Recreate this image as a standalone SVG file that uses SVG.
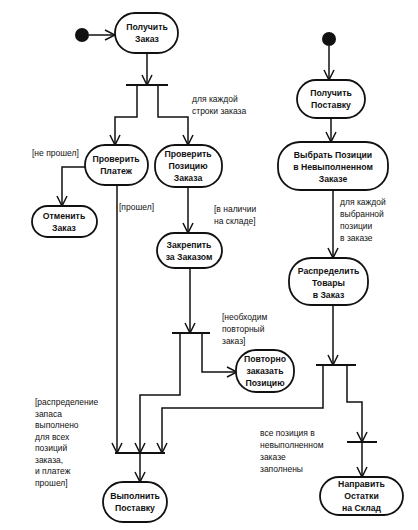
<svg xmlns="http://www.w3.org/2000/svg" width="418" height="530" viewBox="0 0 418 530">
<defs>
<marker id="arr" viewBox="0 0 12 12" refX="11" refY="6" markerWidth="12" markerHeight="12" markerUnits="userSpaceOnUse" orient="auto">
<polyline points="1,1 11,6 1,11" fill="none" stroke="#111" stroke-width="1.5"/>
</marker>
<style>
.node rect{fill:#fff;stroke:#111;stroke-width:1.8}
.node text{font-family:"Liberation Sans",Arial,sans-serif;font-size:8.7px;font-weight:bold;fill:#111;text-anchor:middle}
.c{fill:none;stroke:#111;stroke-width:1.5}
.a{marker-end:url(#arr)}
.bar{stroke:#111;stroke-width:2}
.lbl{font-family:"Liberation Sans",Arial,sans-serif;font-size:8.5px;fill:#111}
</style>
</defs>
<rect width="418" height="530" fill="#fff"/>

<g id="connectors">
<line class="c a" x1="89" y1="35" x2="115" y2="35"/>
<line class="c a" x1="147" y1="53" x2="147" y2="85"/>
<polyline class="c a" points="137,85 137,117 115,117 115,145"/>
<polyline class="c a" points="158,85 158,117 188,117 188,145"/>
<polyline class="c a" points="86,167 62,167 62,206"/>
<line class="c a" x1="117" y1="185" x2="117" y2="453"/>
<line class="c a" x1="188" y1="187" x2="188" y2="233"/>
<line class="c a" x1="190" y1="268" x2="190" y2="333"/>
<polyline class="c a" points="180,333 180,395 140,395 140,453"/>
<polyline class="c a" points="202,333 202,372 237,372"/>
<line class="c a" x1="329" y1="46" x2="329" y2="80"/>
<line class="c a" x1="331" y1="118" x2="331" y2="142"/>
<line class="c a" x1="333" y1="190" x2="333" y2="258"/>
<line class="c a" x1="333" y1="305" x2="333" y2="365"/>
<polyline class="c a" points="323,365 323,408 162,408 162,453"/>
<polyline class="c a" points="347,365 347,402 362,402 362,442"/>
<line class="c a" x1="362" y1="442" x2="362" y2="477"/>
<line class="c a" x1="140" y1="453" x2="140" y2="482"/>
</g>

<g id="bars">
<line class="bar" x1="126" y1="85" x2="168" y2="85"/>
<line class="bar" x1="172" y1="333" x2="210" y2="333"/>
<line class="bar" x1="316" y1="365" x2="356" y2="365"/>
<line class="bar" x1="115" y1="453" x2="165" y2="453"/>
<line class="bar" x1="347" y1="442" x2="377" y2="442"/>
</g>

<g id="start1"><circle cx="82" cy="35" r="7" fill="#111"/></g>
<g id="start2"><circle cx="329" cy="39" r="7" fill="#111"/></g>

<g id="n_get_order" class="node"><rect x="115" y="13" width="63" height="40" rx="20"/><text x="147" y="30">Получить</text><text x="147" y="42">Заказ</text></g>
<g id="n_check_payment" class="node"><rect x="85" y="145" width="63" height="40" rx="20"/><text x="116" y="162">Проверить</text><text x="116" y="174">Платеж</text></g>
<g id="n_check_item" class="node"><rect x="155" y="145" width="67" height="42" rx="20"/><text x="188" y="157">Проверить</text><text x="188" y="169">Позицию</text><text x="188" y="181">Заказа</text></g>
<g id="n_cancel" class="node"><rect x="32" y="206" width="65" height="31" rx="15.5"/><text x="64" y="219">Отменить</text><text x="64" y="231">Заказ</text></g>
<g id="n_reserve" class="node"><rect x="157" y="233" width="65" height="35" rx="17.5"/><text x="189" y="248">Закрепить</text><text x="189" y="260">за Заказом</text></g>
<g id="n_reorder" class="node"><rect x="236" y="350" width="58" height="42" rx="20"/><text x="265" y="362">Повторно</text><text x="265" y="374">заказать</text><text x="265" y="386">Позицию</text></g>
<g id="n_deliver" class="node"><rect x="103" y="482" width="64" height="40" rx="20"/><text x="135" y="499">Выполнить</text><text x="135" y="511">Поставку</text></g>
<g id="n_get_supply" class="node"><rect x="297" y="80" width="68" height="38" rx="19"/><text x="331" y="96">Получить</text><text x="331" y="108">Поставку</text></g>
<g id="n_select" class="node"><rect x="278" y="142" width="110" height="48" rx="22"/><text x="333" y="158">Выбрать Позиции</text><text x="333" y="170">в Невыполненном</text><text x="333" y="182">Заказе</text></g>
<g id="n_distribute" class="node"><rect x="289" y="258" width="79" height="47" rx="22"/><text x="328.5" y="274">Распределить</text><text x="328.5" y="286">Товары</text><text x="328.5" y="298">в Заказ</text></g>
<g id="n_send_rest" class="node"><rect x="320" y="477" width="83" height="38" rx="19"/><text x="361.5" y="487">Направить</text><text x="361.5" y="499">Остатки</text><text x="361.5" y="511">на Склад</text></g>

<g id="labels">
<text class="lbl" x="192" y="102">для каждой</text>
<text class="lbl" x="192" y="114">строки заказа</text>
<text class="lbl" x="32" y="156">[не прошел]</text>
<text class="lbl" x="119" y="210">[прошел]</text>
<text class="lbl" x="214" y="212">[в наличии</text>
<text class="lbl" x="214" y="224">на складе]</text>
<text class="lbl" x="340" y="205">для каждой</text>
<text class="lbl" x="340" y="217">выбранной</text>
<text class="lbl" x="340" y="229">позиции</text>
<text class="lbl" x="340" y="241">в заказе</text>
<text class="lbl" x="222" y="320">[необходим</text>
<text class="lbl" x="222" y="332">повторный</text>
<text class="lbl" x="222" y="344">заказ]</text>
<text class="lbl" x="260" y="436">все позиция в</text>
<text class="lbl" x="260" y="448">невыполненном</text>
<text class="lbl" x="260" y="460">заказе</text>
<text class="lbl" x="260" y="472">заполнены</text>
<text class="lbl" x="35" y="405">[распределение</text>
<text class="lbl" x="35" y="417">запаса</text>
<text class="lbl" x="35" y="428">выполнено</text>
<text class="lbl" x="35" y="440">для всех</text>
<text class="lbl" x="35" y="451">позиций</text>
<text class="lbl" x="35" y="463">заказа,</text>
<text class="lbl" x="35" y="474">и платеж</text>
<text class="lbl" x="35" y="486">прошел]</text>
</g>
</svg>
